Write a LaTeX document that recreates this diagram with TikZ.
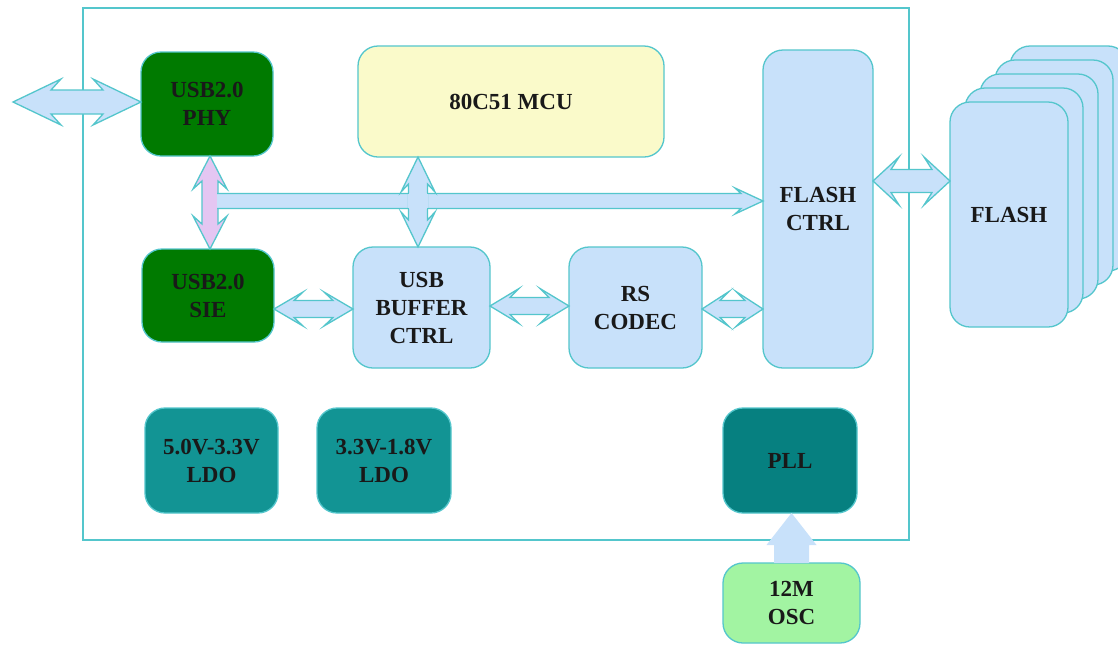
\documentclass[tikz,border=0pt]{standalone}
\usepackage{fontspec}
\setmainfont{Liberation Serif}
\usetikzlibrary{calc}
\definecolor{tealline}{RGB}{84,198,204}
\definecolor{lblue}{RGB}{200,225,250}
\definecolor{dgreen}{RGB}{0,122,0}
\definecolor{ldoteal}{RGB}{18,148,148}
\definecolor{pllteal}{RGB}{6,128,128}
\definecolor{mcuyel}{RGB}{250,250,202}
\definecolor{oscgreen}{RGB}{162,244,162}
\definecolor{pinkfill}{RGB}{228,198,242}
\newcommand{\hdbl}[8]{%
 \draw[#1] let \p1=#2, \p2=#3, \p3=(0,#4) in
 (\x1,\y3) -- (\x1+#7pt,\y3+#6pt) -- (\x1+#7pt-#8pt,\y3+#5pt) -- (\x2-#7pt+#8pt,\y3+#5pt) -- (\x2-#7pt,\y3+#6pt) -- (\x2,\y3) -- (\x2-#7pt,\y3-#6pt) -- (\x2-#7pt+#8pt,\y3-#5pt) -- (\x1+#7pt-#8pt,\y3-#5pt) -- (\x1+#7pt,\y3-#6pt) -- cycle;}
\newcommand{\vdbl}[8]{%
 \draw[#1] let \p1=#2, \p2=#3, \p3=(#4,0) in
 (\x3,\y1) -- (\x3+#6pt,\y1-#7pt) -- (\x3+#5pt,\y1-#7pt+#8pt) -- (\x3+#5pt,\y2+#7pt-#8pt) -- (\x3+#6pt,\y2+#7pt) -- (\x3,\y2) -- (\x3-#6pt,\y2+#7pt) -- (\x3-#5pt,\y2+#7pt-#8pt) -- (\x3-#5pt,\y1-#7pt+#8pt) -- (\x3-#6pt,\y1-#7pt) -- cycle;}
\tikzset{
 blk/.style={draw=tealline, line width=1.3pt, rounded corners=20pt, anchor=north west,
   inner sep=0pt, outer sep=0pt, align=center, font=\fontsize{23}{28}\selectfont\bfseries, text=black!90},
 fat/.style={draw=tealline, line width=1.3pt, fill=lblue, line join=miter},
}
\begin{document}
\begin{tikzpicture}[x=1pt,y=-1pt]
\useasboundingbox[fill=white] (0,0) rectangle (1118,646);
% frame
\node[draw=tealline, line width=1.5pt, anchor=north west, minimum width=826pt, minimum height=532pt, inner sep=0pt, outer sep=0pt] (frame) at (83,8) {};
% blocks
\node[blk, fill=dgreen, minimum width=132pt, minimum height=104pt] (phy) at (141,52) {USB2.0\\PHY};
\node[blk, fill=mcuyel, minimum width=306pt, minimum height=111pt] (mcu) at (358,46) {80C51 MCU};
\node[blk, fill=lblue, minimum width=110pt, minimum height=318pt] (fctrl) at (763,50) {FLASH\\CTRL};
\node[blk, fill=dgreen, minimum width=132pt, minimum height=93pt] (sie) at (142,249) {USB2.0\\SIE};
\node[blk, fill=lblue, minimum width=137pt, minimum height=121pt] (buf) at (353,247) {USB\\BUFFER\\CTRL};
\node[blk, fill=lblue, minimum width=133pt, minimum height=121pt] (rs) at (569,247) {RS\\CODEC};
\node[blk, fill=ldoteal, minimum width=133pt, minimum height=105pt] (ldoa) at (145,408) {5.0V-3.3V\\LDO};
\node[blk, fill=ldoteal, minimum width=134pt, minimum height=105pt] (ldob) at (317,408) {3.3V-1.8V\\LDO};
\node[blk, fill=pllteal, minimum width=134pt, minimum height=105pt] (pll) at (723,408) {PLL};
\node[blk, fill=oscgreen, minimum width=137pt, minimum height=80pt] (osc) at (723,563) {12M\\OSC};
% flash stack
\begin{scope}
\clip (0,0) rectangle (1118,646);
\foreach \i in {4,3,2,1} {
  \node[blk, fill=lblue, minimum width=118pt, minimum height=225pt] (flash\i) at (950+15*\i,102-14*\i) {};
}
\end{scope}
\node[blk, fill=lblue, minimum width=118pt, minimum height=225pt] (flash) at (950,102) {FLASH};
% arrows
\coordinate (extL) at (13,102);
\hdbl{fat}{(extL)}{(phy.west)}{102}{12}{23}{48}{10}
\vdbl{fat, fill=pinkfill}{(phy.south)}{(sie.north)}{210}{8}{17}{33}{8}
% bus
\coordinate (busL) at (217,201);
\fill[lblue] let \p1=(busL), \p2=(fctrl.west), \p3=(0,201) in
 (\x1,\y3+7.5pt) -- (\x2-28pt+6pt,\y3+7.5pt) -- (\x2-28pt,\y3+13pt) -- (\x2,\y3) -- (\x2-28pt,\y3-13pt) -- (\x2-28pt+6pt,\y3-7.5pt) -- (\x1,\y3-7.5pt) -- cycle;
\draw[draw=tealline, line width=1.3pt] let \p1=(busL), \p2=(fctrl.west), \p3=(0,201) in
 (\x1,\y3+7.5pt) -- (\x2-28pt+6pt,\y3+7.5pt) -- (\x2-28pt,\y3+13pt) -- (\x2,\y3) -- (\x2-28pt,\y3-13pt) -- (\x2-28pt+6pt,\y3-7.5pt) -- (\x1,\y3-7.5pt);
\vdbl{fat}{(mcu.south)}{(buf.north)}{418}{9.5}{17}{35}{8}
\fill[lblue] (407.6,194.3) rectangle (428.4,207.7);
\fill[lblue] (409.3,192.6) rectangle (426.7,209.4);
\hdbl{fat}{(sie.east)}{(buf.west)}{309}{8.5}{17}{29}{9}
\hdbl{fat}{(buf.east)}{(rs.west)}{306}{8.5}{17.5}{29}{9}
\hdbl{fat}{(rs.east)}{(fctrl.west)}{309}{8.5}{17.5}{27}{9}
\hdbl{fat}{(fctrl.east)}{(flash.west)}{181}{11.5}{24}{26}{8}
% osc to pll
\fill[lblue] let \p1=(osc.north), \p2=(pll.south) in
 (\x1-17.5pt,\y1) -- (\x1-17.5pt,\y2-32pt) -- (\x1-25pt,\y2-32pt) -- (\x1,\y2) -- (\x1+25pt,\y2-32pt) -- (\x1+17.5pt,\y2-32pt) -- (\x1+17.5pt,\y1) -- cycle;
\end{tikzpicture}
\end{document}
